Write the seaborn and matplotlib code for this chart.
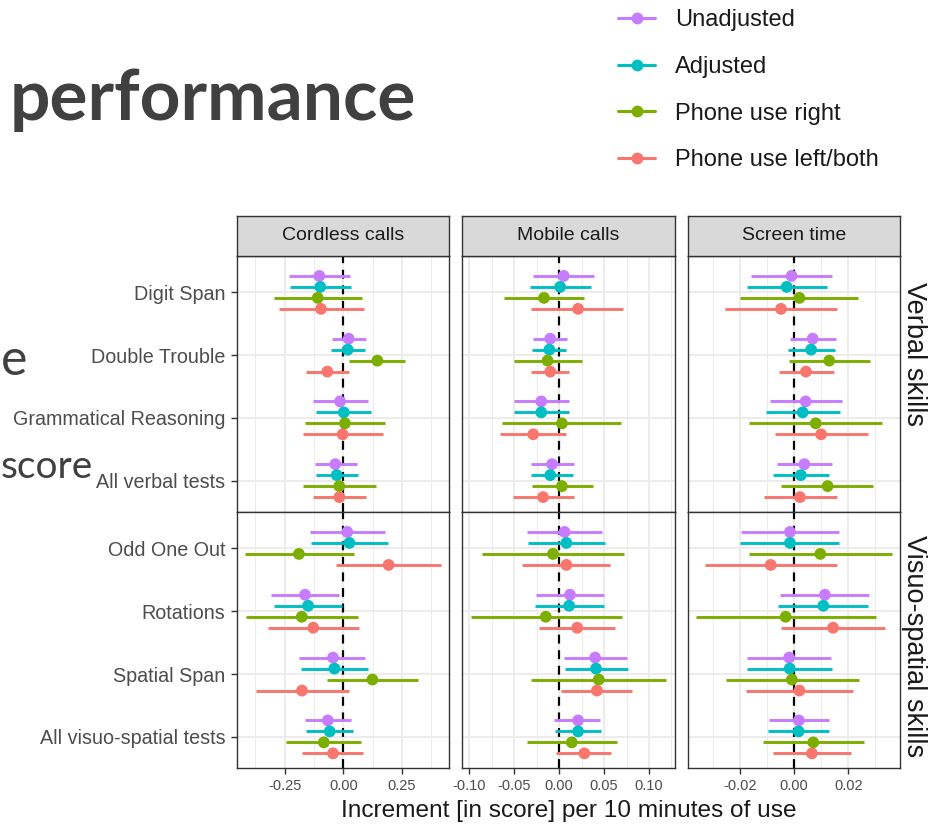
import numpy as np
import pandas as pd
import matplotlib
matplotlib.use("Agg")
import matplotlib.pyplot as plt
from matplotlib.lines import Line2D
import seaborn as sns

# ---------------- data ----------------
tests = ["Digit Span", "Double Trouble", "Grammatical Reasoning", "All verbal tests",
         "Odd One Out", "Rotations", "Spatial Span", "All visuo-spatial tests"]
domains = ["Verbal skills"] * 4 + ["Visuo-spatial skills"] * 4
exposures = ["Cordless calls", "Mobile calls", "Screen time"]
series = ["Unadjusted", "Adjusted", "Phone use right", "Phone use left/both"]

# Cordless calls
cordless_unadj_est = [-0.102, 0.023, -0.014, -0.034, 0.017, -0.163, -0.044, -0.066]
cordless_unadj_lo = [-0.230, -0.050, -0.130, -0.119, -0.142, -0.308, -0.187, -0.163]
cordless_unadj_hi = [0.029, 0.095, 0.104, 0.057, 0.179, -0.018, 0.094, 0.033]
cordless_adj_est = [-0.098, 0.019, 0.002, -0.028, 0.026, -0.150, -0.038, -0.058]
cordless_adj_lo = [-0.227, -0.054, -0.116, -0.116, -0.136, -0.297, -0.181, -0.158]
cordless_adj_hi = [0.031, 0.094, 0.119, 0.061, 0.190, -0.006, 0.104, 0.043]
cordless_right_est = [-0.109, 0.145, 0.007, -0.017, -0.189, -0.177, 0.124, -0.083]
cordless_right_lo = [-0.297, 0.026, -0.163, -0.172, -0.419, -0.414, -0.071, -0.245]
cordless_right_hi = [0.081, 0.263, 0.178, 0.139, 0.044, 0.061, 0.317, 0.077]
cordless_left_est = [-0.095, -0.068, -0.003, -0.017, 0.193, -0.128, -0.176, -0.044]
cordless_left_lo = [-0.275, -0.158, -0.170, -0.129, -0.031, -0.319, -0.372, -0.175]
cordless_left_hi = [0.090, 0.024, 0.168, 0.095, 0.417, 0.066, 0.023, 0.085]

# Mobile calls
mobile_unadj_est = [0.005, -0.010, -0.020, -0.008, 0.006, 0.012, 0.040, 0.021]
mobile_unadj_lo = [-0.029, -0.029, -0.050, -0.031, -0.036, -0.026, 0.005, -0.006]
mobile_unadj_hi = [0.039, 0.009, 0.011, 0.016, 0.048, 0.050, 0.075, 0.045]
mobile_adj_est = [0.001, -0.011, -0.020, -0.010, 0.008, 0.011, 0.041, 0.021]
mobile_adj_lo = [-0.033, -0.030, -0.050, -0.032, -0.035, -0.027, 0.006, -0.005]
mobile_adj_hi = [0.035, 0.008, 0.011, 0.015, 0.051, 0.050, 0.077, 0.047]
mobile_right_est = [-0.017, -0.013, 0.003, 0.003, -0.007, -0.015, 0.044, 0.014]
mobile_right_lo = [-0.061, -0.050, -0.064, -0.030, -0.086, -0.098, -0.032, -0.036]
mobile_right_hi = [0.028, 0.025, 0.069, 0.038, 0.072, 0.070, 0.119, 0.064]
mobile_left_est = [0.021, -0.010, -0.029, -0.018, 0.008, 0.020, 0.042, 0.028]
mobile_left_lo = [-0.031, -0.032, -0.066, -0.051, -0.041, -0.023, 0.002, -0.004]
mobile_left_hi = [0.071, 0.011, 0.008, 0.016, 0.057, 0.062, 0.081, 0.058]

# Screen time
screen_unadj_est = [-0.0009, 0.0069, 0.0043, 0.0038, -0.0015, 0.0114, -0.0018, 0.0018]
screen_unadj_lo = [-0.0158, -0.0016, -0.0090, -0.0064, -0.0196, -0.0051, -0.0172, -0.0093]
screen_unadj_hi = [0.0140, 0.0154, 0.0177, 0.0139, 0.0165, 0.0278, 0.0137, 0.0129]
screen_adj_est = [-0.0027, 0.0063, 0.0032, 0.0025, -0.0015, 0.0108, -0.0016, 0.0017]
screen_adj_lo = [-0.0175, -0.0022, -0.0104, -0.0077, -0.0198, -0.0058, -0.0172, -0.0095]
screen_adj_hi = [0.0123, 0.0150, 0.0169, 0.0128, 0.0165, 0.0274, 0.0140, 0.0129]
screen_right_est = [0.0020, 0.0130, 0.0080, 0.0124, 0.0097, -0.0031, -0.0008, 0.0071]
screen_right_lo = [-0.0198, -0.0017, -0.0165, -0.0048, -0.0166, -0.0360, -0.0252, -0.0116]
screen_right_hi = [0.0237, 0.0282, 0.0324, 0.0293, 0.0363, 0.0301, 0.0239, 0.0257]
screen_left_est = [-0.0048, 0.0044, 0.0100, 0.0022, -0.0086, 0.0144, 0.0020, 0.0066]
screen_left_lo = [-0.0256, -0.0056, -0.0071, -0.0111, -0.0328, -0.0047, -0.0176, -0.0077]
screen_left_hi = [0.0160, 0.0148, 0.0272, 0.0158, 0.0158, 0.0336, 0.0219, 0.0212]

x_major_ticks = [[-0.25, 0.0, 0.25], [-0.10, -0.05, 0.0, 0.05, 0.10], [-0.02, 0.0, 0.02]]
x_tick_labels = [["-0.25", "0.00", "0.25"], ["-0.10", "-0.05", "0.00", "0.05", "0.10"],
                 ["-0.02", "0.00", "0.02"]]
x_minor_ticks = [[-0.375, -0.125, 0.125, 0.375], [-0.075, -0.025, 0.025, 0.075, 0.125],
                 [-0.03, -0.01, 0.01, 0.03]]

# ---------------- long table ----------------
g = globals()
rows = []
for ex, key in zip(exposures, ["cordless", "mobile", "screen"]):
    for s, sk in zip(series, ["unadj", "adj", "right", "left"]):
        est = g[f"{key}_{sk}_est"]
        lo = g[f"{key}_{sk}_lo"]
        hi = g[f"{key}_{sk}_hi"]
        for i, t in enumerate(tests):
            rows.append(dict(exposure=ex, series=s, test=t, domain=domains[i],
                             pos=i % 4, est=est[i], lo=lo[i], hi=hi[i]))
df = pd.DataFrame(rows)
dodge = {s: o for s, o in zip(series, [-0.2625, -0.0875, 0.0875, 0.2625])}
df["y"] = df["pos"] + df["series"].map(dodge)

palette = {"Unadjusted": "#C77CFF", "Adjusted": "#00BFC4",
           "Phone use right": "#7CAE00", "Phone use left/both": "#F8766D"}

# ---------------- figure ----------------
sns.set_theme(style="white")
plt.rcParams["font.family"] = ["Liberation Sans", "DejaVu Sans"]

W, H = 931, 826
fig = plt.figure(figsize=(W / 100, H / 100), dpi=100)
fig.patch.set_facecolor("white")


def fa(x0, y0, x1, y1):
    return [x0 / W, 1 - y1 / H, (x1 - x0) / W, (y1 - y0) / H]


col_x = [(237.3, 449.3), (462.3, 675.0), (688.3, 900.0)]
row_y = [(256.0, 512.0), (512.0, 768.3)]
xlims = [(-0.4516, 0.4516), (-0.108, 0.129), (-0.039, 0.0391)]
dom_names = ["Verbal skills", "Visuo-spatial skills"]
axis_grey = "#333333"

for r, dom in enumerate(dom_names):
    for c, ex in enumerate(exposures):
        ax = fig.add_axes(fa(col_x[c][0], row_y[r][0], col_x[c][1], row_y[r][1]))
        ax.set_facecolor("white")
        sub = df[(df.exposure == ex) & (df.domain == dom)]
        ax.set_xlim(*xlims[c])
        ax.set_ylim(3.50, -0.58)
        ax.set_xticks(x_major_ticks[c])
        ax.set_xticks(x_minor_ticks[c], minor=True)
        ax.set_yticks(range(4))
        ax.grid(which="major", color="#EBEBEB", lw=1.3, zorder=0)
        ax.grid(which="minor", axis="x", color="#EBEBEB", lw=0.7, zorder=0)
        ax.set_axisbelow(True)
        ax.axvline(0, color="black", ls=(0, (4, 3)), lw=1.6, zorder=1)
        for s in series:
            ss = sub[sub.series == s]
            ax.hlines(ss["y"], ss["lo"], ss["hi"], color=palette[s], lw=2.1, zorder=2)
        sns.scatterplot(data=sub, x="est", y="y", hue="series", palette=palette,
                        hue_order=series, s=72, linewidth=0, legend=False, ax=ax, zorder=3)
        ax.set_xlabel("")
        ax.set_ylabel("")
        for sp in ax.spines.values():
            sp.set_color(axis_grey)
            sp.set_linewidth(1.0)
        ax.tick_params(which="major", length=4.5, width=1.0, color=axis_grey,
                       labelcolor="#4D4D4D")
        ax.tick_params(which="minor", length=0)
        if c == 0:
            ax.set_yticklabels(tests[r * 4:(r + 1) * 4], fontsize=14.2)
            ax.tick_params(axis="y", left=True, pad=4)
        else:
            ax.tick_params(axis="y", left=False, labelleft=False)
        if r == 1:
            ax.set_xticklabels(x_tick_labels[c], fontsize=10.5)
            ax.tick_params(axis="x", bottom=True, pad=3)
        else:
            ax.tick_params(axis="x", bottom=False, labelbottom=False)

# strips on top
for c, ex in enumerate(exposures):
    sax = fig.add_axes(fa(col_x[c][0], 215.7, col_x[c][1], 256.0))
    sax.set_facecolor("#D9D9D9")
    sax.set_xticks([])
    sax.set_yticks([])
    for sp in sax.spines.values():
        sp.set_color(axis_grey)
        sp.set_linewidth(1.0)
    sax.text(0.5, 0.5, ex, ha="center", va="center", fontsize=14,
             color="#1A1A1A", transform=sax.transAxes)

# right strips
strip_centers = [354, 646]
for r, dom in enumerate(dom_names):
    fig.text(914 / W, 1 - strip_centers[r] / H, dom, rotation=270, ha="center",
             va="center", fontsize=19.5, color="#1A1A1A")

# axis title
fig.text(569 / W, 1 - 811 / H, "Increment [in score] per 10 minutes of use",
         ha="center", va="center", fontsize=17.6, color="#1A1A1A")

# legend
handles = [Line2D([0], [0], color=palette[s], lw=2.2, marker="o", markersize=8.5,
                  markeredgewidth=0) for s in series]
fig.legend(handles, series, loc="upper left", bbox_to_anchor=(618 / W, 1 - 9 / H),
           frameon=False, fontsize=17, handlelength=1.57, handletextpad=0.85,
           labelspacing=1.05, borderpad=0, borderaxespad=0, labelcolor="#1A1A1A")

# slide text (part of the slide behind the chart)
fig.text(10 / W, 1 - 120 / H, "performance", ha="left", va="baseline",
         fontsize=51.3, fontweight="bold", family=["Lato", "DejaVu Sans"], color="#404040")
fig.text(1 / W, 1 - 375 / H, "e", ha="left", va="baseline",
         fontsize=36, family=["Lato", "DejaVu Sans"], color="#404040")
fig.text(1 / W, 1 - 478 / H, "score", ha="left", va="baseline",
         fontsize=28, family=["Lato", "DejaVu Sans"], color="#404040")

fig.savefig("out.png", dpi=100, facecolor="white")
